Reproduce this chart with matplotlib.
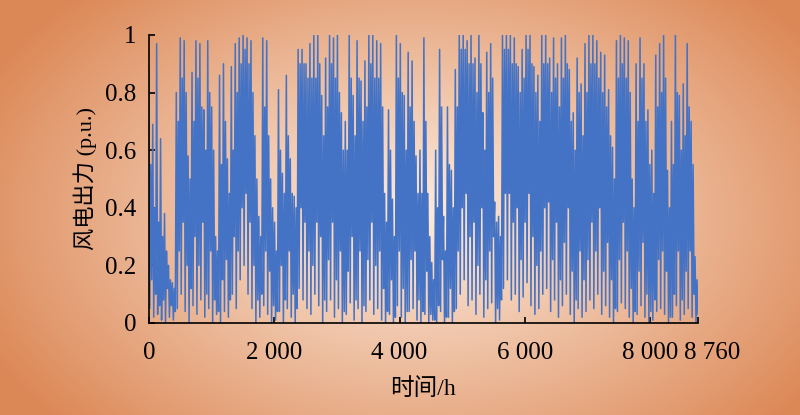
import matplotlib.pyplot as plt
import matplotlib.transforms as mtransforms
import numpy as np

# hourly wind output, read block by block (~64 h each) off the picture
# peaks: highest stroke in the block, mids: second stroke, lows/lows2: troughs
peaks = [0.88, 0.69, 0.97, 0.64, 0.38, 0.20, 0.14, 0.80, 0.99, 0.98, 0.58, 0.87, 0.98, 0.97,
         0.74, 0.98, 0.75, 0.30, 0.86, 0.90, 0.57, 0.89, 0.97, 0.99, 1.00, 0.99, 0.98, 0.65,
         0.37, 0.99, 0.98, 0.50, 0.35, 0.81, 0.52, 0.86, 0.57, 0.44, 0.95, 0.95, 0.90, 0.97,
         1.00, 1.00, 0.79, 0.92, 1.00, 0.99, 1.00, 0.73, 0.70, 1.00, 0.79, 0.98, 0.84, 0.91,
         1.00, 1.00, 0.98, 0.97, 0.45, 0.74, 0.43, 1.00, 0.97, 0.79, 0.94, 0.91, 0.58, 0.60,
         0.99, 0.45, 0.21, 0.60, 0.95, 0.37, 0.75, 0.53, 0.88, 1.00, 1.00, 0.98, 1.00, 0.92,
         1.00, 0.73, 0.94, 0.97, 0.42, 0.37, 1.00, 1.00, 1.00, 0.99, 0.89, 0.95, 1.00, 1.00,
         0.89, 0.86, 1.00, 1.00, 0.92, 0.99, 0.90, 0.99, 1.00, 0.88, 0.73, 0.92, 0.83, 0.97,
         1.00, 1.00, 0.98, 0.94, 0.93, 0.81, 0.61, 0.98, 1.00, 0.99, 0.98, 0.50, 0.90, 0.99,
         0.90, 0.74, 0.60, 0.93, 0.97, 1.00, 0.53, 0.70, 1.00, 0.79, 0.83, 0.97, 0.70, 0.23]

mids = [0.55, 0.40, 0.35, 0.30, 0.25, 0.15, 0.12, 0.70, 0.85, 0.80, 0.50, 0.70, 0.85, 0.75,
        0.60, 0.80, 0.60, 0.25, 0.55, 0.70, 0.45, 0.60, 0.80, 0.90, 0.95, 0.90, 0.80, 0.50,
        0.30, 0.75, 0.65, 0.40, 0.25, 0.60, 0.45, 0.65, 0.45, 0.40, 0.90, 0.90, 0.85, 0.85,
        0.85, 0.90, 0.65, 0.75, 0.90, 0.85, 0.80, 0.60, 0.60, 0.85, 0.65, 0.85, 0.70, 0.75,
        0.90, 0.85, 0.85, 0.75, 0.35, 0.60, 0.30, 0.85, 0.80, 0.60, 0.75, 0.70, 0.45, 0.45,
        0.70, 0.30, 0.15, 0.40, 0.75, 0.25, 0.55, 0.40, 0.75, 0.95, 0.95, 0.90, 0.90, 0.80,
        0.90, 0.60, 0.80, 0.85, 0.35, 0.30, 0.95, 0.95, 0.90, 0.90, 0.80, 0.85, 0.95, 0.90,
        0.80, 0.70, 0.90, 0.90, 0.80, 0.85, 0.75, 0.85, 0.90, 0.70, 0.60, 0.80, 0.65, 0.80,
        0.90, 0.90, 0.85, 0.80, 0.75, 0.65, 0.50, 0.85, 0.90, 0.85, 0.80, 0.40, 0.70, 0.85,
        0.70, 0.55, 0.45, 0.75, 0.80, 0.85, 0.40, 0.55, 0.80, 0.60, 0.65, 0.75, 0.55, 0.15]

lows = [0.05, 0.02, 0.03, 0.01, 0.00, 0.02, 0.01, 0.05, 0.10, 0.04, 0.00, 0.06, 0.03, 0.08,
        0.02, 0.05, 0.00, 0.03, 0.00, 0.04, 0.02, 0.10, 0.05, 0.15, 0.20, 0.10, 0.05, 0.00,
        0.02, 0.06, 0.03, 0.00, 0.01, 0.04, 0.00, 0.05, 0.02, 0.00, 0.12, 0.08, 0.05, 0.03,
        0.10, 0.06, 0.00, 0.04, 0.08, 0.02, 0.05, 0.00, 0.03, 0.07, 0.01, 0.05, 0.00, 0.04,
        0.08, 0.03, 0.05, 0.01, 0.00, 0.03, 0.00, 0.06, 0.02, 0.00, 0.04, 0.05, 0.01, 0.00,
        0.03, 0.00, 0.01, 0.00, 0.04, 0.00, 0.02, 0.00, 0.05, 0.10, 0.15, 0.06, 0.08, 0.03,
        0.10, 0.02, 0.05, 0.07, 0.00, 0.01, 0.12, 0.15, 0.08, 0.10, 0.04, 0.09, 0.14, 0.06,
        0.03, 0.05, 0.10, 0.12, 0.04, 0.08, 0.02, 0.06, 0.10, 0.03, 0.00, 0.05, 0.02, 0.04,
        0.08, 0.05, 0.10, 0.03, 0.06, 0.02, 0.00, 0.04, 0.07, 0.05, 0.02, 0.00, 0.03, 0.06,
        0.02, 0.00, 0.01, 0.04, 0.05, 0.03, 0.00, 0.02, 0.06, 0.01, 0.03, 0.05, 0.02, 0.00]

lows2 = [0.15, 0.10, 0.06, 0.08, 0.12, 0.06, 0.04, 0.25, 0.35, 0.20, 0.12, 0.30, 0.20, 0.35,
         0.10, 0.25, 0.08, 0.04, 0.15, 0.22, 0.08, 0.30, 0.25, 0.40, 0.45, 0.35, 0.20, 0.08,
         0.10, 0.25, 0.18, 0.06, 0.04, 0.20, 0.08, 0.25, 0.10, 0.05, 0.40, 0.35, 0.25, 0.20,
         0.35, 0.30, 0.08, 0.22, 0.35, 0.15, 0.25, 0.04, 0.18, 0.30, 0.08, 0.25, 0.06, 0.22,
         0.35, 0.20, 0.25, 0.12, 0.04, 0.15, 0.02, 0.25, 0.12, 0.04, 0.22, 0.25, 0.08, 0.04,
         0.18, 0.03, 0.01, 0.06, 0.22, 0.02, 0.12, 0.04, 0.25, 0.40, 0.45, 0.30, 0.35, 0.20,
         0.40, 0.15, 0.25, 0.30, 0.05, 0.08, 0.45, 0.45, 0.35, 0.40, 0.22, 0.35, 0.45, 0.30,
         0.20, 0.25, 0.40, 0.42, 0.22, 0.35, 0.15, 0.28, 0.40, 0.18, 0.08, 0.25, 0.15, 0.22,
         0.35, 0.25, 0.40, 0.18, 0.28, 0.15, 0.05, 0.22, 0.35, 0.25, 0.12, 0.04, 0.18, 0.28,
         0.10, 0.04, 0.08, 0.22, 0.25, 0.18, 0.02, 0.10, 0.25, 0.08, 0.18, 0.25, 0.10, 0.03]

xticks = [0, 2000, 4000, 6000, 8000, 8760]
xtick_labels = ["0", "2 000", "4 000", "6 000", "8 000", "8 760"]
yticks = [0, 0.2, 0.4, 0.6, 0.8, 1]
ytick_labels = ["0", "0.2", "0.4", "0.6", "0.8", "1"]

# interleave peak / trough / mid / trough per block
power = np.column_stack([peaks, lows, mids, lows2]).ravel()
hours = np.arange(len(power)) * (8760 / (len(power) - 1))

fonts = ["Liberation Serif", "Noto Sans CJK SC"]
plt.rcParams["font.family"] = fonts

fig = plt.figure(figsize=(8, 4.15), dpi=100)

# radial background, light in the middle, orange at the edges
bg = fig.add_axes([0, 0, 1, 1], zorder=-10)
gx, gy = np.meshgrid(np.linspace(0, 1, 400), np.linspace(0, 1, 210))
r = np.sqrt(((gx - 0.52) / 0.6) ** 2 + ((gy - 0.48) / 0.75) ** 2)
t = np.clip(r, 0, 1) ** 1.1
inner = np.array([252, 234, 220]) / 255
outer = np.array([220, 136, 86]) / 255
img = inner[None, None, :] * (1 - t[..., None]) + outer[None, None, :] * t[..., None]
bg.imshow(img, aspect="auto", extent=[0, 1, 0, 1], origin="lower")
bg.axis("off")

ax = fig.add_axes([0.186, 0.2217, 0.6865, 0.694])
ax.patch.set_alpha(0)
ax.plot(hours, power, color="#4472c4", linewidth=1.1)

ax.set_xlim(0, 8760)
ax.set_ylim(0, 1)
ax.set_xticks(xticks)
ax.set_xticklabels(xtick_labels)
ax.set_yticks(yticks)
ax.set_yticklabels(ytick_labels)
ax.tick_params(direction="in", length=4, width=1.2, labelsize=18, colors="black")
ax.tick_params(axis="y", pad=9)
ax.tick_params(axis="x", pad=14)
for side in ["top", "right"]:
    ax.spines[side].set_visible(False)
for side in ["left", "bottom"]:
    ax.spines[side].set_linewidth(1.2)

# the last label sits a bit to the right of its tick
shift = mtransforms.ScaledTranslation(14 / 100, 0, fig.dpi_scale_trans)
last = ax.get_xticklabels()[-1]
last.set_transform(last.get_transform() + shift)

ax.set_xlabel("时间/h", fontsize=17, labelpad=10)
ax.set_ylabel("风电出力 (p.u.)", fontsize=16, labelpad=6)

fig.savefig("out.png", dpi=100)
